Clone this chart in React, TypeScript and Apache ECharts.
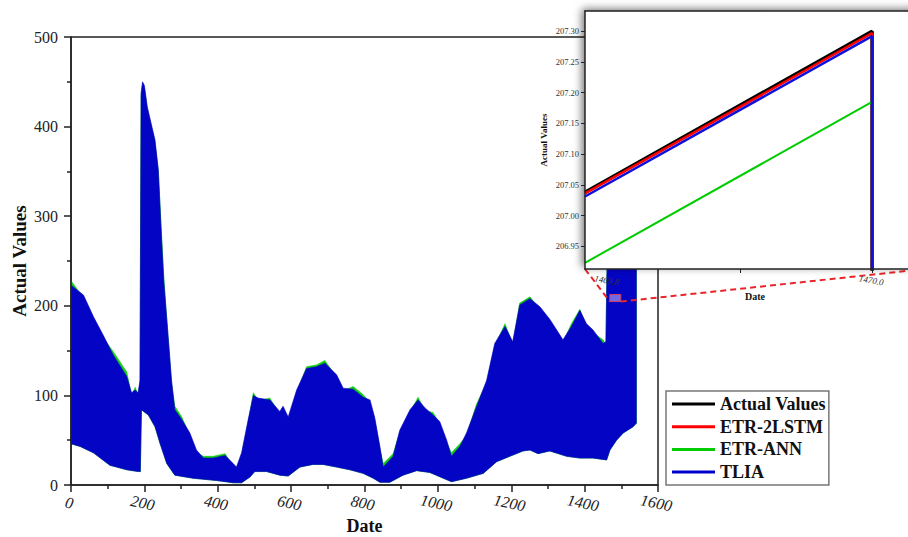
import React, { useEffect, useRef } from 'react';
import * as echarts from 'echarts';

// ---- Main chart: envelope of the densely oscillating series ----
const upperDates = [0, 34, 61, 88, 115, 152, 165, 175, 183, 188, 191, 195, 200, 208, 229, 238, 247, 253, 265, 274, 283, 302, 324, 342, 361, 388, 420, 442, 451, 465, 483, 497, 510, 542, 569, 578, 592, 615, 642, 669, 692, 724, 742, 769, 796, 815, 828, 842, 851, 878, 896, 924, 946, 965, 987, 1005, 1024, 1037, 1060, 1078, 1105, 1133, 1155, 1183, 1204, 1223, 1251, 1278, 1305, 1341, 1364, 1387, 1405, 1423, 1450, 1458, 1463, 1541];
const tliaUpper = [223, 212, 188, 167, 145, 121, 103, 106, 103, 117, 437, 450, 446, 422, 385, 352, 273, 227, 165, 117, 84, 73, 58, 39, 30, 30, 33, 24, 20, 36, 73, 100, 97, 95, 82, 88, 76, 106, 130, 132, 136, 123, 108, 107, 98, 95, 75, 43, 20, 32, 61, 84, 95, 86, 78, 71, 50, 32, 43, 58, 87, 117, 158, 177, 160, 201, 208, 199, 185, 162, 177, 195, 180, 173, 158, 160, 300, 300];
const annUpper = [228, 209, 185, 164, 149, 126, 100, 109, 100, 114, 434, 447, 443, 419, 382, 349, 279, 232, 162, 114, 88, 76, 55, 36, 32, 32, 35, 21, 17, 33, 70, 103, 94, 97, 79, 85, 73, 103, 132, 134, 139, 120, 105, 110, 101, 92, 72, 40, 24, 35, 58, 81, 98, 83, 81, 68, 47, 36, 46, 55, 90, 114, 155, 180, 157, 203, 210, 196, 182, 159, 180, 196, 177, 170, 162, 157, 297, 297];
const lowerDates = [0, 25, 61, 106, 152, 183, 189, 192, 211, 229, 243, 261, 283, 333, 397, 442, 465, 488, 501, 533, 569, 592, 624, 660, 687, 724, 760, 796, 824, 842, 869, 905, 942, 978, 1015, 1037, 1078, 1124, 1160, 1196, 1232, 1251, 1273, 1305, 1351, 1387, 1423, 1460, 1469, 1487, 1505, 1532, 1541];
const tliaLower = [46, 43, 36, 22, 17, 15, 15, 84, 78, 65, 46, 24, 11, 7.5, 5, 2.5, 2.5, 9, 15, 15, 11, 10, 20, 23, 23, 20, 17, 13, 7.5, 3, 3, 11, 16, 14, 7.5, 3.7, 7.5, 13, 26, 32, 38, 39, 35, 38, 32, 30, 30, 28, 39, 50, 58, 65, 69];

// ---- Inset (zoom around date 1470) ----
const insetDates = [1469.783, 1470.0, 1470.003];
const insetActual = [207.038, 207.3, 40];
const insetETR2LSTM = [207.036, 207.297, 40];
const insetETRANN = [206.923, 207.185, 40];
const insetTLIA = [207.031, 207.292, 40];
const insetXTicks = [1469.8, 1469.9, 1470.0];
const insetXLabels = [1469.8, 1470.0];
const insetYTicks = [206.95, 207.0, 207.05, 207.1, 207.15, 207.2, 207.25, 207.3];
const insetXMin = 1469.783;
const insetXMax = 1470.04;
const insetYMin = 206.913;
const insetYMax = 207.333;
const zoomDate = 1470;
const zoomValue = 207;

const legendNames = ['Actual Values', 'ETR-2LSTM', 'ETR-ANN', 'TLIA'];
const colors = { actual: '#000000', lstm: '#ff0000', ann: '#00cc00', tlia: '#0000cc' };

const FONT = '"Liberation Serif", "Times New Roman", serif';

const pair = (xs: number[], ys: number[]) => xs.map((x, i) => [x, ys[i]]);

const bandSeries = (name: string, tops: number[], fill: string, z: number) => ({
  name,
  type: 'custom',
  xAxisIndex: 0,
  yAxisIndex: 0,
  data: [[upperDates[0], tops[0]]],
  z,
  clip: true,
  silent: true,
  renderItem: (_params: any, api: any) => {
    const top = upperDates.map((d, i) => api.coord([d, tops[i]]));
    const bottom = lowerDates.map((d, i) => api.coord([d, tliaLower[i]])).reverse();
    return { type: 'polygon', shape: { points: top.concat(bottom) }, style: { fill, stroke: fill, lineWidth: 0.6 } };
  },
});

export default function App() {
  const ref = useRef<HTMLDivElement>(null);
  useEffect(() => {
    if (!ref.current) return;
    const chart = echarts.init(ref.current, null, { renderer: 'svg' });
    const axisLine = { show: true, lineStyle: { color: '#222', width: 1.5 } };
    const option: any = {
      animation: false,
      backgroundColor: '#fff',
      grid: [
        { left: 71, top: 37, width: 587, height: 448, outerBoundsMode: 'none', containLabel: false, show: true, borderColor: '#222', borderWidth: 1.5, backgroundColor: 'transparent', z: 0 },
        {
          left: 585, top: 11, width: 340, height: 258, outerBoundsMode: 'none', containLabel: false, show: true, borderColor: 'transparent', borderWidth: 0,
          backgroundColor: '#fff', shadowBlur: 8, shadowColor: 'rgba(0,0,0,0.55)', shadowOffsetX: -3, shadowOffsetY: -2, z: 20,
        },
      ],
      xAxis: [
        {
          type: 'value', gridIndex: 0, min: 0, max: 1600, interval: 200,
          name: 'Date', nameLocation: 'middle', nameGap: 32, nameMoveOverlap: false,
          nameTextStyle: { fontFamily: FONT, fontWeight: 'bold', fontSize: 18, color: '#111' },
          axisLine,
          axisTick: { show: true, inside: false, length: 7, lineStyle: { color: '#222', width: 1.5 } },
          minorTick: { show: true, splitNumber: 2, length: 4, lineStyle: { color: '#222', width: 1.5 } },
          axisLabel: { fontFamily: FONT, fontStyle: 'italic', fontSize: 16, color: '#222', rotate: -12, margin: 10, align: 'center', verticalAlign: 'top', formatter: (v: number) => String(v) },
          splitLine: { show: false },
          z: 10,
        },
        {
          type: 'value', gridIndex: 1, min: insetXMin, max: insetXMax,
          name: 'Date', nameLocation: 'middle', nameGap: 22,
          nameTextStyle: { fontFamily: FONT, fontWeight: 'bold', fontSize: 10, color: '#111' },
          axisLine,
          axisTick: { show: true, inside: false, length: 4, customValues: insetXTicks, lineStyle: { color: '#222', width: 1 } },
          axisLabel: { fontFamily: FONT, fontStyle: 'italic', fontSize: 9, color: '#333', rotate: -10, margin: 7, align: 'center', verticalAlign: 'top', customValues: insetXLabels, formatter: (v: number) => v.toFixed(1) },
          splitLine: { show: false },
          z: 22,
        },
        {
          type: 'value', gridIndex: 1, position: 'top', min: insetXMin, max: insetXMax,
          axisLine, axisTick: { show: false }, axisLabel: { show: false }, splitLine: { show: false },
          z: 22,
        },
      ],
      yAxis: [
        {
          type: 'value', gridIndex: 0, min: 0, max: 500, interval: 100,
          name: 'Actual Values', nameLocation: 'middle', nameGap: 42, nameMoveOverlap: false,
          nameTextStyle: { fontFamily: FONT, fontWeight: 'bold', fontSize: 19, color: '#111' },
          axisLine,
          axisTick: { show: true, inside: false, length: 7, lineStyle: { color: '#222', width: 1.5 } },
          minorTick: { show: true, splitNumber: 2, length: 4, lineStyle: { color: '#222', width: 1.5 } },
          axisLabel: { fontFamily: FONT, fontSize: 16, color: '#222', margin: 13 },
          splitLine: { show: false },
          z: 10,
        },
        {
          type: 'value', gridIndex: 1, min: insetYMin, max: insetYMax,
          name: 'Actual Values', nameLocation: 'middle', nameGap: 37,
          nameTextStyle: { fontFamily: FONT, fontWeight: 'bold', fontSize: 9, color: '#111' },
          axisLine,
          axisTick: { show: true, inside: false, length: 4, customValues: insetYTicks, lineStyle: { color: '#222', width: 1 } },
          axisLabel: { fontFamily: FONT, fontSize: 8.5, color: '#333', margin: 6, customValues: insetYTicks, formatter: (v: number) => v.toFixed(2) },
          splitLine: { show: false },
          z: 22,
        },
      ],
      legend: {
        data: legendNames,
        orient: 'vertical',
        left: 666, top: 391,
        padding: [4, 3, 4, 6],
        itemGap: 4.7,
        itemWidth: 43, itemHeight: 3,
        icon: 'rect',
        selectedMode: false,
        borderColor: '#777', borderWidth: 1.5, backgroundColor: '#fff',
        textStyle: { fontFamily: FONT, fontWeight: 'bold', fontSize: 18, color: '#111' },
        z: 30,
      },
      series: [
        bandSeries('ETR-ANN band', annUpper, '#11cc11', 2),
        bandSeries('TLIA band', tliaUpper, '#0404c4', 3),
        {
          name: 'Actual Values', type: 'line', xAxisIndex: 1, yAxisIndex: 1, data: pair(insetDates, insetActual),
          symbol: 'none', color: colors.actual, lineStyle: { width: 3.5, color: colors.actual }, z: 21,
        },
        {
          name: 'ETR-2LSTM', type: 'line', xAxisIndex: 1, yAxisIndex: 1, data: pair(insetDates, insetETR2LSTM),
          symbol: 'none', color: colors.lstm, lineStyle: { width: 2.5, color: colors.lstm }, z: 21,
        },
        {
          name: 'ETR-ANN', type: 'line', xAxisIndex: 1, yAxisIndex: 1, data: pair(insetDates, insetETRANN),
          symbol: 'none', color: colors.ann, lineStyle: { width: 2, color: colors.ann }, z: 21,
        },
        {
          name: 'TLIA', type: 'line', xAxisIndex: 1, yAxisIndex: 1, data: pair(insetDates, insetTLIA),
          symbol: 'none', color: colors.tlia, lineStyle: { width: 2.5, color: '#1010dd' }, z: 21,
        },
      ],
    };
    chart.setOption(option);

    const bl = chart.convertToPixel({ gridIndex: 1 } as any, [insetXMin, insetYMin]) as number[];
    const br = chart.convertToPixel({ gridIndex: 1 } as any, [insetXMax, insetYMin]) as number[];
    const mk = chart.convertToPixel({ gridIndex: 0 } as any, [zoomDate, zoomValue]) as number[];
    const rx = mk[0] - 0.5, ry = mk[1] - 5, rw = 11, rh = 7;
    const dash = { stroke: '#e8262a', lineWidth: 2, lineDash: [6, 4] };
    chart.setOption({
      graphic: [
        { type: 'line', z: 15, shape: { x1: bl[0], y1: bl[1], x2: rx, y2: ry + rh }, style: dash, silent: true },
        { type: 'line', z: 15, shape: { x1: rx + rw, y1: ry + rh, x2: br[0], y2: br[1] }, style: dash, silent: true },
        { type: 'rect', z: 15, shape: { x: rx, y: ry, width: rw, height: rh }, style: { fill: 'rgba(150,140,235,0.75)', stroke: '#d0406a', lineWidth: 1 }, silent: true },
      ],
    });
    return () => chart.dispose();
  }, []);
  return <div ref={ref} style={{ position: 'fixed', left: 0, top: 0, width: 908, height: 537 }} />;
}
